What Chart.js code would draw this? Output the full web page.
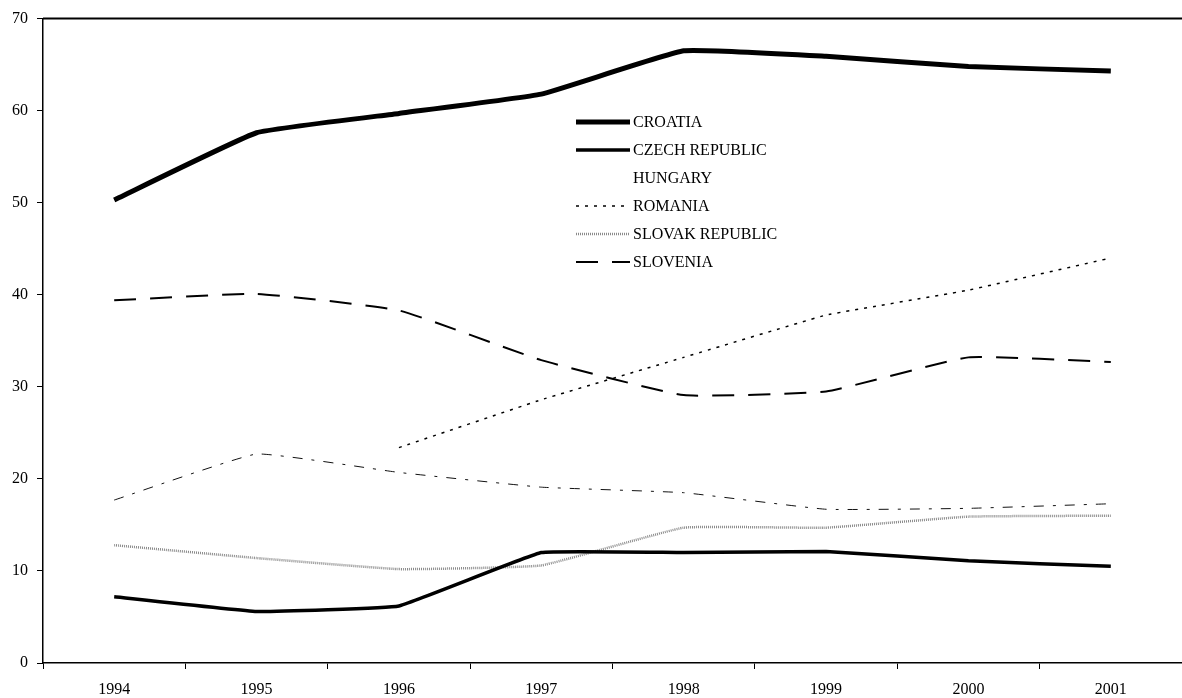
<!DOCTYPE html>
<html>
<head>
<meta charset="utf-8">
<script src="https://cdn.jsdelivr.net/npm/chart.js@4/dist/chart.umd.min.js"></script>
<style>
  html, body { margin: 0; padding: 0; background: #fff; }
  #wrap { width: 1182px; height: 698px; }
</style>
</head>
<body>
<div id="wrap"><canvas id="chart" width="1182" height="698"></canvas></div>
<script>
// years on the x axis
var years = ['1994', '1995', '1996', '1997', '1998', '1999', '2000', '2001'];

// series values
var croatia  = [50.3, 57.6, 59.7, 61.8, 66.5, 65.9, 64.8, 64.3];
var czech    = [7.2, 5.6, 6.2, 12.0, 12.0, 12.1, 11.1, 10.5];
var hungary  = [17.7, 22.7, 20.7, 19.1, 18.5, 16.7, 16.8, 17.3];
var romania  = [null, null, 23.4, 28.6, 33.2, 37.8, 40.5, 44.0];
var slovak   = [12.8, 11.4, 10.2, 10.6, 14.7, 14.7, 15.9, 16.0];
var slovenia = [39.4, 40.1, 38.3, 32.9, 29.1, 29.5, 33.2, 32.7];

var yTicks = [0, 10, 20, 30, 40, 50, 60, 70];

var serif = '"Liberation Serif", "DejaVu Serif", serif';

function line(label, data, width, dash, color, tension, inLegend) {
    return {
        label: label,
        data: data,
        borderColor: color,
        borderWidth: width,
        borderDash: dash,
        pointRadius: 0,
        tension: tension,
        fill: false,
        spanGaps: false,
        showSample: inLegend
    };
}

// legend drawn inside the plot, like the original
var legendBox = {
    id: 'legendBox',
    afterDatasetsDraw: function (chart) {
        var ctx = chart.ctx;
        var x0 = 576, x1 = 630, top = 122, gap = 28;
        ctx.save();
        ctx.font = '16px ' + serif;
        ctx.fillStyle = '#000';
        ctx.textBaseline = 'middle';
        chart.data.datasets.forEach(function (ds, i) {
            var y = top + i * gap;
            if (ds.showSample) {
                ctx.beginPath();
                ctx.strokeStyle = ds.borderColor;
                ctx.lineWidth = ds.borderWidth;
                ctx.setLineDash(ds.borderDash || []);
                ctx.moveTo(x0, y);
                ctx.lineTo(x1, y);
                ctx.stroke();
            }
            ctx.setLineDash([]);
            ctx.fillText(ds.label, x1 + 3, y + 1);
        });
        ctx.restore();
    }
};

// top frame line running to the right edge
var topLine = {
    id: 'topLine',
    afterDraw: function (chart) {
        var a = chart.chartArea, ctx = chart.ctx;
        ctx.save();
        ctx.strokeStyle = '#000';
        ctx.lineWidth = 2;
        ctx.beginPath();
        ctx.moveTo(a.left, a.top);
        ctx.lineTo(chart.width, a.top);
        ctx.stroke();
        ctx.restore();
    }
};

var ctx = document.getElementById('chart').getContext('2d');
var chart = new Chart(ctx, {
    type: 'line',
    data: {
        labels: years,
        datasets: [
            line('CROATIA', croatia, 5, [], '#000', 0.1, true),
            line('CZECH REPUBLIC', czech, 3.5, [], '#000', 0.08, true),
            line('HUNGARY', hungary, 1, [10, 9, 3, 9], '#111', 0.1, false),
            line('ROMANIA', romania, 1.5, [3, 6], '#000', 0.05, true),
            line('SLOVAK REPUBLIC', slovak, 2.5, [1, 1], '#8a8a8a', 0.1, true),
            line('SLOVENIA', slovenia, 2, [22, 14], '#000', 0.12, true)
        ]
    },
    options: {
        responsive: false,
        animation: false,
        layout: { padding: { top: 14, right: 0, left: 0, bottom: 0 } },
        plugins: {
            legend: { display: false },
            tooltip: { enabled: false }
        },
        scales: {
            x: {
                offset: true,
                grid: { display: true, drawOnChartArea: false, tickLength: 6, color: '#000', offset: true },
                border: { display: true, color: '#000', width: 1.5 },
                ticks: { color: '#000', font: { family: serif, size: 16 }, padding: 11, maxRotation: 0 },
                afterFit: function (scale) { scale.height = 35; }
            },
            y: {
                min: 0,
                max: 70,
                afterBuildTicks: function (scale) {
                    scale.ticks = yTicks.map(function (v) { return { value: v }; });
                },
                grid: { display: true, drawOnChartArea: false, tickLength: 6, color: '#000' },
                border: { display: true, color: '#000', width: 1.5 },
                ticks: { color: '#000', font: { family: serif, size: 16 }, padding: 9 },
                afterFit: function (scale) { scale.width = 43; }
            }
        }
    },
    plugins: [legendBox, topLine]
});
</script>
</body>
</html>
